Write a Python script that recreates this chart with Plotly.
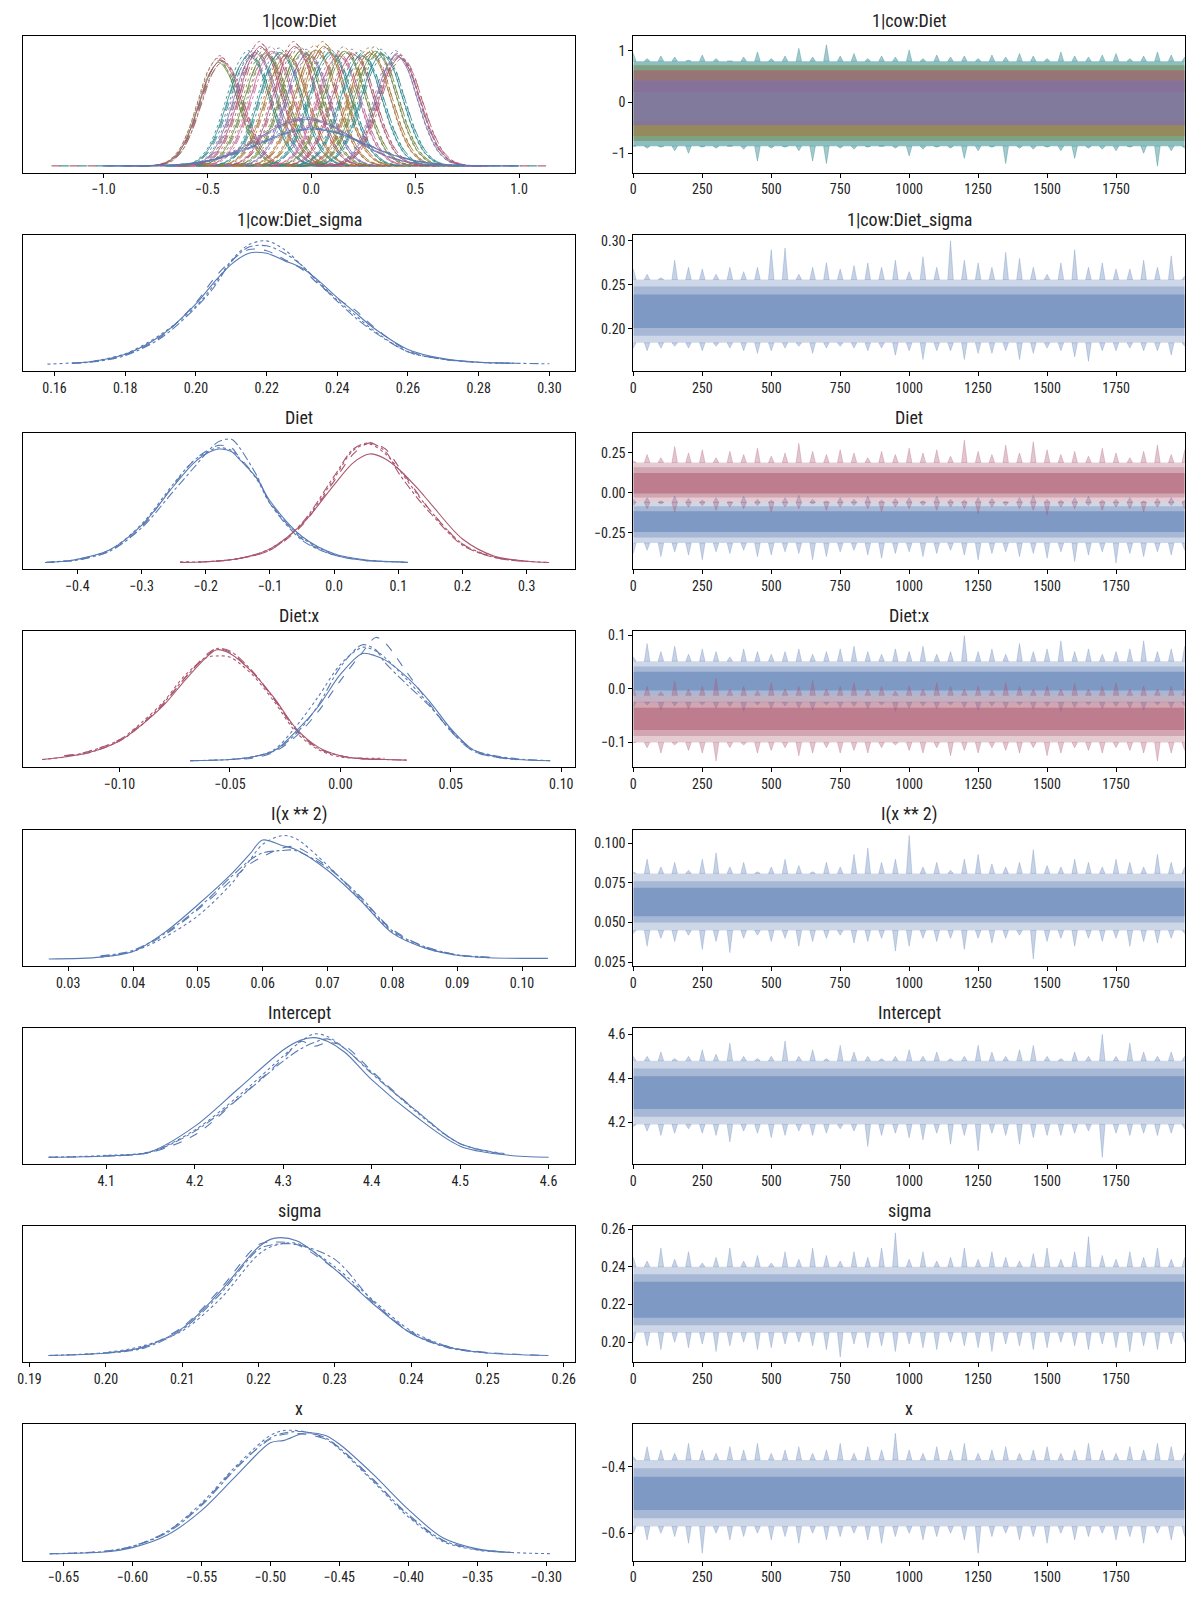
import plotly.graph_objects as go

# ------------------------------------------------------------------ data
TITLES = ["1|cow:Diet", "1|cow:Diet_sigma", "Diet", "Diet:x", "I(x ** 2)",
          "Intercept", "sigma", "x"]

KDE_TICKS = [
    [-1.0, -0.5, 0.0, 0.5, 1.0],
    [0.16, 0.18, 0.20, 0.22, 0.24, 0.26, 0.28, 0.30],
    [-0.4, -0.3, -0.2, -0.1, 0.0, 0.1, 0.2, 0.3],
    [-0.10, -0.05, 0.00, 0.05, 0.10],
    [0.03, 0.04, 0.05, 0.06, 0.07, 0.08, 0.09, 0.10],
    [4.1, 4.2, 4.3, 4.4, 4.5, 4.6],
    [0.19, 0.20, 0.21, 0.22, 0.23, 0.24, 0.25, 0.26],
    [-0.65, -0.60, -0.55, -0.50, -0.45, -0.40, -0.35, -0.30],
]
KDE_TICK_DEC = [1, 2, 1, 2, 2, 1, 2, 2]
TRACE_TICKS = [
    [-1, 0, 1],
    [0.20, 0.25, 0.30],
    [-0.25, 0.00, 0.25],
    [-0.1, 0.0, 0.1],
    [0.025, 0.050, 0.075, 0.100],
    [4.2, 4.4, 4.6],
    [0.20, 0.22, 0.24, 0.26],
    [-0.6, -0.4],
]
TRACE_TICK_DEC = [0, 2, 2, 1, 3, 1, 2, 1]
ITER_TICKS = [0, 250, 500, 750, 1000, 1250, 1500, 1750]

KDE_XRANGE = [[-1.385, 1.27], [0.1512, 0.3073], [-0.484, 0.3755], [-0.1435, 0.1063],
              [0.0231, 0.1082], [4.0065, 4.630], [0.1892, 0.2615], [-0.679, -0.279]]
TRACE_YRANGE = [[-1.378, 1.282], [0.152, 0.307], [-0.479, 0.375], [-0.147, 0.108],
                [0.0227, 0.1087], [4.01, 4.63], [0.1893, 0.2616], [-0.682, -0.273]]
ITER_RANGE = [0, 1999]

# ---- KDE curves (normalised density), 4 chains each
SIGCOW_X = [0.158, 0.165, 0.17, 0.18, 0.19, 0.20, 0.205, 0.21, 0.215, 0.22, 0.225,
            0.23, 0.235, 0.24, 0.245, 0.25, 0.26, 0.27, 0.28, 0.29, 0.30]
SIGCOW_Y = [
    [None, 0.01, 0.02, 0.08, 0.23, 0.49, 0.66, 0.81, 0.90, 0.90, 0.84, 0.78, 0.67, 0.54, 0.42, 0.30, 0.12, 0.045, 0.016, 0.008, None],
    [None, 0.008, 0.018, 0.075, 0.22, 0.50, 0.69, 0.84, 0.93, 0.92, 0.85, 0.77, 0.64, 0.53, 0.44, 0.31, 0.11, 0.04, 0.015, 0.007, None],
    [0.0, 0.01, 0.02, 0.085, 0.24, 0.47, 0.64, 0.84, 0.97, 1.0, 0.93, 0.80, 0.66, 0.52, 0.40, 0.28, 0.10, 0.04, 0.014, 0.006, None],
    [None, 0.008, 0.015, 0.07, 0.21, 0.46, 0.62, 0.83, 0.95, 0.96, 0.90, 0.80, 0.65, 0.51, 0.38, 0.27, 0.10, 0.04, 0.016, 0.008, 0.003],
]
DIET_B_X = [-0.45, -0.42, -0.40, -0.35, -0.30, -0.25, -0.22, -0.20, -0.18, -0.16, -0.15,
            -0.12, -0.10, -0.05, 0.00, 0.05, 0.10, 0.115]
DIET_B_Y = [
    [0.0, 0.01, 0.025, 0.10, 0.30, 0.62, 0.80, 0.88, 0.92, 0.90, 0.85, 0.68, 0.50, 0.21, 0.07, 0.02, 0.005, 0.0],
    [0.0, 0.01, 0.02, 0.09, 0.29, 0.63, 0.82, 0.90, 0.95, 0.93, 0.87, 0.68, 0.49, 0.19, 0.06, 0.015, 0.004, 0.0],
    [0.0, 0.012, 0.025, 0.10, 0.31, 0.64, 0.82, 0.89, 0.93, 0.91, 0.86, 0.67, 0.48, 0.20, 0.065, 0.018, 0.004, None],
    [0.0, 0.01, 0.02, 0.09, 0.28, 0.58, 0.76, 0.88, 0.98, 1.0, 0.95, 0.70, 0.48, 0.18, 0.06, 0.015, 0.004, 0.0],
]
DIET_R_X = [-0.24, -0.20, -0.15, -0.10, -0.05, 0.00, 0.03, 0.055, 0.08, 0.10, 0.13, 0.15,
            0.20, 0.25, 0.30, 0.335]
DIET_R_Y = [
    [0.0, 0.005, 0.03, 0.11, 0.31, 0.63, 0.81, 0.88, 0.84, 0.76, 0.60, 0.48, 0.19, 0.05, 0.01, 0.0],
    [0.0, 0.005, 0.03, 0.10, 0.30, 0.66, 0.88, 0.97, 0.92, 0.78, 0.56, 0.42, 0.15, 0.04, 0.008, None],
    [0.005, 0.006, 0.03, 0.11, 0.31, 0.68, 0.91, 0.96, 0.88, 0.76, 0.55, 0.42, 0.15, 0.045, 0.01, 0.0],
    [None, 0.005, 0.03, 0.10, 0.32, 0.70, 0.92, 0.97, 0.90, 0.73, 0.52, 0.40, 0.14, 0.04, 0.008, None],
]
DIETX_R_X = [-0.135, -0.125, -0.115, -0.10, -0.09, -0.08, -0.07, -0.06, -0.056, -0.05,
             -0.04, -0.03, -0.02, -0.01, 0.00, 0.01, 0.02, 0.03]
DIETX_R_Y = [
    [0.01, 0.03, 0.06, 0.16, 0.29, 0.45, 0.66, 0.85, 0.90, 0.87, 0.72, 0.51, 0.26, 0.11, 0.04, 0.015, 0.01, 0.005],
    [None, 0.04, 0.07, 0.17, 0.30, 0.46, 0.68, 0.87, 0.91, 0.88, 0.72, 0.50, 0.25, 0.10, 0.04, 0.02, 0.01, None],
    [0.01, 0.03, 0.07, 0.17, 0.31, 0.48, 0.70, 0.84, 0.85, 0.84, 0.70, 0.48, 0.23, 0.09, 0.03, 0.02, 0.02, None],
    [None, 0.04, 0.06, 0.16, 0.29, 0.47, 0.68, 0.86, 0.91, 0.89, 0.73, 0.50, 0.25, 0.10, 0.04, 0.015, 0.01, 0.005],
]
DIETX_B_X = [-0.068, -0.05, -0.04, -0.03, -0.02, -0.01, 0.00, 0.01, 0.016, 0.02, 0.03,
             0.04, 0.05, 0.06, 0.07, 0.08, 0.095]
DIETX_B_Y = [
    [0.0, 0.01, 0.03, 0.08, 0.24, 0.44, 0.70, 0.87, 0.85, 0.82, 0.68, 0.49, 0.26, 0.09, 0.035, 0.01, 0.0],
    [0.0, 0.01, 0.02, 0.07, 0.20, 0.40, 0.65, 0.88, 1.0, 0.96, 0.72, 0.47, 0.24, 0.08, 0.03, 0.01, None],
    [0.0, 0.01, 0.03, 0.09, 0.28, 0.52, 0.78, 0.92, 0.89, 0.84, 0.66, 0.46, 0.24, 0.08, 0.03, 0.008, None],
    [None, 0.01, 0.03, 0.08, 0.22, 0.45, 0.76, 0.94, 0.90, 0.80, 0.62, 0.45, 0.25, 0.09, 0.04, 0.015, 0.0],
]
IX2_X = [0.027, 0.035, 0.04, 0.045, 0.05, 0.055, 0.058, 0.060, 0.063, 0.065, 0.070, 0.075,
         0.080, 0.085, 0.090, 0.095, 0.104]
IX2_Y = [
    [0.0, 0.015, 0.06, 0.22, 0.44, 0.68, 0.85, 0.965, 0.92, 0.89, 0.72, 0.48, 0.21, 0.09, 0.03, 0.01, 0.005],
    [None, 0.02, 0.065, 0.20, 0.40, 0.63, 0.77, 0.83, 0.90, 0.91, 0.75, 0.50, 0.24, 0.10, 0.035, 0.012, None],
    [None, 0.015, 0.06, 0.18, 0.35, 0.60, 0.80, 0.93, 1.0, 0.98, 0.76, 0.49, 0.22, 0.09, 0.03, 0.01, None],
    [None, 0.025, 0.07, 0.21, 0.41, 0.66, 0.80, 0.86, 0.88, 0.88, 0.74, 0.51, 0.23, 0.10, 0.035, 0.015, None],
]
INTERCEPT_X = [4.035, 4.10, 4.15, 4.20, 4.25, 4.30, 4.32, 4.335, 4.35, 4.37, 4.40, 4.45,
               4.50, 4.55, 4.60]
INTERCEPT_Y = [
    [0.0, 0.01, 0.045, 0.25, 0.56, 0.87, 0.95, 0.97, 0.94, 0.85, 0.63, 0.33, 0.09, 0.02, 0.0],
    [0.0, 0.01, 0.04, 0.18, 0.48, 0.80, 0.94, 0.90, 0.93, 0.90, 0.70, 0.38, 0.11, 0.025, None],
    [0.0, 0.015, 0.045, 0.22, 0.50, 0.82, 0.94, 1.0, 0.98, 0.88, 0.69, 0.37, 0.11, 0.025, None],
    [None, 0.01, 0.04, 0.21, 0.48, 0.78, 0.88, 0.93, 0.96, 0.88, 0.68, 0.38, 0.11, 0.03, None],
]
SIGMA_X = [0.1925, 0.20, 0.205, 0.21, 0.215, 0.22, 0.222, 0.225, 0.23, 0.235, 0.24, 0.245,
           0.25, 0.258]
SIGMA_Y = [
    [0.0, 0.02, 0.07, 0.22, 0.52, 0.88, 0.95, 0.93, 0.70, 0.42, 0.18, 0.065, 0.02, 0.0],
    [0.0, 0.02, 0.07, 0.23, 0.54, 0.90, 0.92, 0.90, 0.70, 0.43, 0.19, 0.07, 0.025, 0.0],
    [0.0, 0.025, 0.08, 0.20, 0.46, 0.82, 0.89, 0.91, 0.72, 0.45, 0.20, 0.07, 0.02, None],
    [None, 0.02, 0.06, 0.21, 0.50, 0.86, 0.90, 0.90, 0.78, 0.44, 0.18, 0.06, 0.02, None],
]
XCOEF_X = [-0.66, -0.62, -0.60, -0.575, -0.55, -0.525, -0.50, -0.49, -0.475, -0.46, -0.45,
           -0.425, -0.40, -0.375, -0.35, -0.325, -0.295]
XCOEF_Y = [
    [0.0, 0.015, 0.05, 0.15, 0.35, 0.63, 0.90, 0.92, 0.98, 0.96, 0.89, 0.64, 0.36, 0.13, 0.04, 0.01, None],
    [0.0, 0.02, 0.06, 0.18, 0.40, 0.70, 0.93, 0.97, 0.97, 0.93, 0.86, 0.60, 0.31, 0.11, 0.035, 0.01, None],
    [0.0, 0.02, 0.06, 0.18, 0.41, 0.71, 0.96, 1.0, 0.99, 0.93, 0.85, 0.58, 0.30, 0.10, 0.03, 0.01, 0.0],
    [None, 0.02, 0.06, 0.17, 0.39, 0.69, 0.94, 0.98, 0.99, 0.94, 0.86, 0.59, 0.32, 0.11, 0.035, 0.01, None],
]

# ---- 1|cow:Diet levels: centre, peak height, spread, colour index
COW_CENTER = [-0.445, -0.435, -0.30, -0.27, -0.245, -0.22, -0.19, -0.15, -0.12, -0.08,
              -0.05, -0.02, 0.02, 0.06, 0.09, 0.13, 0.16, 0.20, 0.24, 0.28, 0.31, 0.34,
              0.41, 0.425, -0.03, 0.0]
COW_HEIGHT = [0.84, 0.86, 0.90, 0.92, 0.97, 0.91, 0.93, 0.92, 0.90, 0.97, 0.93, 0.91,
              0.94, 0.97, 0.92, 0.90, 0.93, 0.91, 0.90, 0.92, 0.93, 0.91, 0.90, 0.88,
              0.38, 0.30]
COW_SPREAD = [0.095, 0.10, 0.10, 0.10, 0.10, 0.10, 0.10, 0.10, 0.10, 0.10, 0.10, 0.10,
              0.10, 0.10, 0.10, 0.10, 0.10, 0.10, 0.10, 0.10, 0.10, 0.10, 0.10, 0.10,
              0.22, 0.25]
COW_COLOR = [3, 1, 2, 4, 1, 3, 5, 2, 6, 1, 3, 4, 6, 6, 2, 5, 3, 1, 2, 6, 3, 2, 4, 1, 4, 0]
SHAPE_OFF = [-4.0, -3.5, -3.0, -2.5, -2.0, -1.5, -1.0, -0.5, 0.0, 0.5, 1.0, 1.5, 2.0, 2.5,
             3.0, 3.5, 4.0]
SHAPE_Y = [0.0003, 0.0022, 0.011, 0.044, 0.135, 0.325, 0.607, 0.882, 1.0, 0.882, 0.607,
           0.325, 0.135, 0.044, 0.011, 0.0022, 0.0003]
CHAIN_SCALE = [1.0, 1.02, 1.04, 0.99]
CHAIN_SHIFT = [0.0, 0.006, -0.005, 0.01]
COW_TAIL_X = [[-1.25, 1.13], [-1.21, 1.10]]

# ---- traces: iteration grid, spike maxima / minima, density bands (outer, mid, core)
ITER = [0, 50, 100, 150, 200, 250, 300, 350, 400, 450, 500, 550, 600, 650, 700, 750, 800,
        850, 900, 950, 1000, 1050, 1100, 1150, 1200, 1250, 1300, 1350, 1400, 1450, 1500,
        1550, 1600, 1650, 1700, 1750, 1800, 1850, 1900, 1950, 1999]

COW_TR_HI = [0.95, 0.85, 0.9, 0.88, 0.82, 0.92, 0.85, 0.8, 0.88, 0.98, 0.85, 0.9, 1.05, 0.88,
             1.12, 0.9, 0.95, 0.85, 0.9, 0.88, 1.02, 0.85, 0.92, 0.88, 0.9, 0.85, 0.92, 0.88,
             0.95, 0.9, 0.85, 0.98, 0.9, 0.88, 0.92, 0.95, 0.85, 0.9, 0.98, 0.92, 0.88]
COW_TR_LO = [-0.85, -0.9, -0.88, -0.95, -1.0, -0.88, -0.9, -0.85, -0.92, -1.15, -0.9, -0.88,
             -0.95, -1.15, -1.2, -0.9, -0.92, -0.88, -0.85, -0.9, -1.05, -0.92, -0.88, -0.9,
             -1.1, -0.95, -0.88, -1.2, -0.9, -0.92, -0.88, -0.95, -1.1, -0.9, -0.92, -0.95,
             -0.88, -1.0, -1.25, -0.95, -0.9]
COW_LAYER_COLOR = [2, 3, 1, 6, 4]
COW_LAYER_LO = [-0.86, -0.76, 0.20, -0.66, -0.45]
COW_LAYER_HI = [0.80, 0.72, 0.62, -0.38, 0.42]
COW_LAYER_ALPHA = [0.55, 0.5, 0.6, 0.55, 0.8]

SIGCOW_HI = [0.268, 0.262, 0.258, 0.278, 0.27, 0.268, 0.262, 0.27, 0.265, 0.27, 0.29, 0.292,
             0.262, 0.27, 0.275, 0.268, 0.272, 0.275, 0.27, 0.278, 0.265, 0.282, 0.27, 0.30,
             0.278, 0.275, 0.27, 0.287, 0.28, 0.27, 0.262, 0.275, 0.29, 0.27, 0.275, 0.268,
             0.268, 0.278, 0.27, 0.283, 0.26]
SIGCOW_LO = [0.178, 0.175, 0.178, 0.18, 0.178, 0.175, 0.18, 0.178, 0.175, 0.172, 0.175, 0.178,
             0.18, 0.172, 0.178, 0.18, 0.178, 0.175, 0.178, 0.17, 0.175, 0.165, 0.175, 0.175,
             0.165, 0.172, 0.172, 0.175, 0.165, 0.172, 0.178, 0.175, 0.168, 0.163, 0.175,
             0.175, 0.178, 0.175, 0.175, 0.17, 0.18]
SIGCOW_BANDS = [[0.184, 0.256], [0.192, 0.248], [0.201, 0.239]]

DIET_B_HI = [-0.04, -0.03, -0.05, -0.02, -0.035, -0.045, -0.03, -0.055, -0.02, -0.04, -0.045,
             -0.03, -0.015, -0.04, -0.05, -0.03, -0.04, -0.02, -0.045, -0.035, -0.03, -0.05,
             -0.02, -0.04, -0.045, -0.03, -0.035, -0.055, -0.03, -0.015, -0.04, -0.045,
             -0.03, -0.02, -0.045, -0.04, -0.03, -0.05, -0.035, -0.03, -0.045]
DIET_B_LO = [-0.38, -0.36, -0.40, -0.37, -0.39, -0.42, -0.37, -0.38, -0.36, -0.40, -0.39,
             -0.37, -0.38, -0.42, -0.40, -0.37, -0.36, -0.39, -0.41, -0.38, -0.37, -0.40,
             -0.38, -0.36, -0.39, -0.42, -0.38, -0.37, -0.40, -0.38, -0.41, -0.37, -0.43,
             -0.39, -0.37, -0.44, -0.38, -0.40, -0.37, -0.39, -0.36]
DIET_B_BANDS = [[-0.315, -0.06], [-0.28, -0.085], [-0.245, -0.115]]
DIET_R_HI = [0.2, 0.24, 0.22, 0.29, 0.25, 0.27, 0.22, 0.26, 0.24, 0.28, 0.23, 0.25, 0.31,
             0.26, 0.24, 0.27, 0.25, 0.22, 0.26, 0.24, 0.28, 0.25, 0.27, 0.23, 0.33, 0.26,
             0.24, 0.3, 0.25, 0.32, 0.27, 0.24, 0.26, 0.23, 0.28, 0.25, 0.22, 0.26, 0.30,
             0.24, 0.27]
DIET_R_LO = [-0.08, -0.1, -0.07, -0.12, -0.09, -0.08, -0.11, -0.09, -0.1, -0.08, -0.12,
             -0.09, -0.1, -0.07, -0.11, -0.09, -0.08, -0.1, -0.12, -0.09, -0.1, -0.08,
             -0.11, -0.09, -0.1, -0.13, -0.09, -0.08, -0.1, -0.11, -0.14, -0.09, -0.1,
             -0.08, -0.11, -0.09, -0.1, -0.12, -0.09, -0.08, -0.1]
DIET_R_BANDS = [[-0.06, 0.19], [-0.03, 0.16], [-0.005, 0.125]]

DIETX_B_HI = [0.06, 0.085, 0.07, 0.08, 0.065, 0.075, 0.07, 0.06, 0.075, 0.07, 0.065, 0.07,
              0.075, 0.065, 0.07, 0.075, 0.08, 0.07, 0.065, 0.075, 0.07, 0.08, 0.065, 0.07,
              0.1, 0.07, 0.075, 0.065, 0.085, 0.07, 0.075, 0.09, 0.07, 0.075, 0.065, 0.07,
              0.075, 0.09, 0.07, 0.075, 0.08]
DIETX_B_LO = [-0.035, -0.03, -0.04, -0.032, -0.038, -0.03, -0.036, -0.033, -0.042, -0.03,
              -0.037, -0.032, -0.036, -0.04, -0.03, -0.035, -0.033, -0.038, -0.03, -0.042,
              -0.036, -0.032, -0.037, -0.03, -0.035, -0.04, -0.032, -0.036, -0.03, -0.038,
              -0.033, -0.042, -0.035, -0.03, -0.037, -0.033, -0.036, -0.04, -0.03, -0.035,
              -0.032]
DIETX_B_BANDS = [[-0.025, 0.052], [-0.012, 0.042], [-0.003, 0.032]]
DIETX_R_HI = [0.0, 0.005, -0.005, 0.015, 0.0, 0.005, 0.02, 0.0, 0.005, -0.003, 0.012, 0.0,
              0.005, 0.016, 0.0, 0.005, 0.012, 0.0, 0.005, -0.004, 0.006, 0.0, 0.012, 0.005,
              0.0, 0.006, -0.002, 0.012, 0.005, 0.0, 0.006, 0.0, 0.01, 0.0, 0.005, 0.012, 0.0,
              0.006, 0.0, 0.005, 0.0]
DIETX_R_LO = [-0.1, -0.11, -0.12, -0.105, -0.115, -0.12, -0.135, -0.11, -0.105, -0.12,
              -0.115, -0.11, -0.125, -0.12, -0.11, -0.12, -0.115, -0.12, -0.11, -0.105,
              -0.115, -0.12, -0.11, -0.125, -0.115, -0.12, -0.11, -0.115, -0.12, -0.11,
              -0.125, -0.12, -0.11, -0.115, -0.12, -0.11, -0.115, -0.12, -0.135, -0.12,
              -0.115]
DIETX_R_BANDS = [[-0.1, -0.012], [-0.088, -0.024], [-0.077, -0.035]]

IX2_HI = [0.082, 0.09, 0.085, 0.088, 0.083, 0.09, 0.094, 0.085, 0.088, 0.082, 0.085, 0.09,
          0.086, 0.082, 0.088, 0.085, 0.093, 0.097, 0.088, 0.09, 0.105, 0.085, 0.088, 0.083,
          0.09, 0.093, 0.087, 0.085, 0.088, 0.096, 0.086, 0.085, 0.09, 0.088, 0.085, 0.09,
          0.088, 0.085, 0.093, 0.088, 0.085]
IX2_LO = [0.043, 0.035, 0.04, 0.038, 0.042, 0.033, 0.038, 0.031, 0.04, 0.042, 0.038, 0.04,
          0.035, 0.038, 0.04, 0.042, 0.037, 0.038, 0.04, 0.032, 0.035, 0.04, 0.038, 0.04,
          0.033, 0.04, 0.037, 0.04, 0.042, 0.027, 0.038, 0.04, 0.035, 0.04, 0.038, 0.04,
          0.035, 0.038, 0.037, 0.04, 0.043]
IX2_BANDS = [[0.045, 0.081], [0.05, 0.076], [0.054, 0.072]]

INTERCEPT_HI = [4.5, 4.5, 4.52, 4.49, 4.5, 4.53, 4.51, 4.56, 4.5, 4.49, 4.5, 4.57, 4.5,
                4.53, 4.49, 4.55, 4.52, 4.5, 4.49, 4.5, 4.53, 4.5, 4.52, 4.49, 4.5, 4.55,
                4.52, 4.5, 4.53, 4.55, 4.5, 4.49, 4.52, 4.5, 4.6, 4.5, 4.56, 4.52, 4.5, 4.52,
                4.5]
INTERCEPT_LO = [4.18, 4.16, 4.14, 4.15, 4.17, 4.15, 4.14, 4.11, 4.16, 4.15, 4.13, 4.14, 4.16,
                4.14, 4.15, 4.17, 4.16, 4.09, 4.14, 4.15, 4.13, 4.12, 4.15, 4.1, 4.14, 4.07,
                4.15, 4.14, 4.1, 4.13, 4.14, 4.14, 4.15, 4.16, 4.04, 4.15, 4.14, 4.15, 4.14,
                4.15, 4.17]
INTERCEPT_BANDS = [[4.19, 4.48], [4.225, 4.445], [4.26, 4.41]]

SIGMA_HI = [0.245, 0.243, 0.25, 0.244, 0.248, 0.242, 0.245, 0.25, 0.243, 0.246, 0.242, 0.248,
            0.244, 0.25, 0.246, 0.243, 0.248, 0.245, 0.25, 0.258, 0.244, 0.248, 0.243, 0.245,
            0.25, 0.244, 0.248, 0.245, 0.243, 0.247, 0.25, 0.244, 0.248, 0.256, 0.246, 0.244,
            0.248, 0.245, 0.25, 0.244, 0.245]
SIGMA_LO = [0.2, 0.198, 0.196, 0.2, 0.197, 0.199, 0.195, 0.198, 0.2, 0.196, 0.197, 0.199,
            0.2, 0.198, 0.196, 0.192, 0.199, 0.197, 0.198, 0.195, 0.199, 0.197, 0.196, 0.2,
            0.198, 0.197, 0.195, 0.199, 0.198, 0.196, 0.197, 0.2, 0.198, 0.196, 0.199, 0.197,
            0.195, 0.198, 0.196, 0.199, 0.2]
SIGMA_BANDS = [[0.205, 0.240], [0.209, 0.236], [0.213, 0.232]]

XCOEF_HI = [-0.37, -0.34, -0.35, -0.36, -0.33, -0.35, -0.36, -0.34, -0.35, -0.33, -0.36,
            -0.35, -0.34, -0.36, -0.35, -0.33, -0.36, -0.34, -0.35, -0.3, -0.35, -0.36,
            -0.34, -0.35, -0.33, -0.36, -0.35, -0.34, -0.36, -0.35, -0.34, -0.36, -0.35,
            -0.33, -0.35, -0.36, -0.34, -0.35, -0.33, -0.34, -0.36]
XCOEF_LO = [-0.6, -0.62, -0.6, -0.61, -0.63, -0.66, -0.6, -0.62, -0.61, -0.6, -0.62, -0.61,
            -0.63, -0.6, -0.62, -0.61, -0.6, -0.62, -0.63, -0.61, -0.6, -0.62, -0.61, -0.6,
            -0.62, -0.66, -0.61, -0.6, -0.62, -0.61, -0.63, -0.6, -0.62, -0.61, -0.6, -0.62,
            -0.61, -0.63, -0.6, -0.62, -0.61]
XCOEF_BANDS = [[-0.58, -0.38], [-0.555, -0.405], [-0.53, -0.43]]

# ------------------------------------------------------------------ style
FONT = "Liberation Sans Narrow, Roboto Condensed, DejaVu Sans Condensed, sans-serif"
PALETTE = [(88, 122, 180), (170, 86, 110), (48, 138, 142), (112, 134, 66),
           (130, 112, 164), (196, 108, 150), (168, 118, 60)]
BLUE, RED = 0, 1
DASHES = ["solid", "dash", "dot", "dashdot"]
BAND_ALPHA = [0.3, 0.33, 0.5]
SPIKE_HALF = 10                   # half base width of a spike, in iterations
PAGE_OFF = 8                      # browser body margin
W, H = 1184, 1584
LEFT_PX = (17.5, 572.5)           # page coordinates of the panel boxes
RIGHT_PX = (631.0, 1185.7)
BOX_TOP_PX = [31.6, 231.0, 430.4, 629.8, 829.2, 1028.6, 1228.0, 1427.4]
BOX_H_PX = 137.0


def rgba(i, a):
    r, g, b = PALETTE[i]
    return f"rgba({r},{g},{b},{a})"


def fmt(v, dec):
    s = f"{abs(v):.{dec}f}"
    return ("\u2212" + s) if v < 0 else s


fig = go.Figure()
layout = dict(width=W, height=H, margin=dict(l=0, r=0, t=0, b=0),
              paper_bgcolor="white", plot_bgcolor="white", showlegend=False,
              font=dict(family=FONT, size=14, color="#222222"))
annotations = []


def axis_base():
    return dict(showline=True, mirror=True, linecolor="black", linewidth=1,
                showgrid=False, zeroline=False, ticks="outside", ticklen=4,
                tickwidth=1, tickcolor="black", tickfont=dict(size=14, color="#222222"))


def ax_ids(row, col):
    n = 2 * row + col + 1
    return ("x" if n == 1 else f"x{n}"), ("y" if n == 1 else f"y{n}"), n


def add_kde(row, xs, ys_list, color):
    xa, ya, _ = ax_ids(row, 0)
    for c, ys in enumerate(ys_list):
        fig.add_trace(go.Scatter(x=xs, y=ys, mode="lines", xaxis=xa, yaxis=ya,
                                 line=dict(color=rgba(color, 1), width=1.1, dash=DASHES[c],
                                           shape="spline", smoothing=0.9),
                                 hoverinfo="skip"))


def add_rect(xa, ya, lo, hi, fillcolor):
    fig.add_trace(go.Scatter(x=[ITER[0], ITER[-1], ITER[-1], ITER[0], ITER[0]],
                             y=[lo, lo, hi, hi, lo], mode="lines", fill="toself",
                             xaxis=xa, yaxis=ya, fillcolor=fillcolor, line=dict(width=0),
                             hoverinfo="skip"))


def add_spikes(xa, ya, hi, lo, top, bottom, color):
    xs, ys = [], []
    for k in range(len(ITER)):
        x0 = max(ITER[0], ITER[k] - SPIKE_HALF)
        x1 = min(ITER[-1], ITER[k] + SPIKE_HALF)
        xs += [x0, ITER[k], x1, x0, None, x0, ITER[k], x1, x0, None]
        ys += [top, hi[k], top, top, None, bottom, lo[k], bottom, bottom, None]
    fig.add_trace(go.Scatter(x=xs, y=ys, mode="lines", fill="toself", xaxis=xa, yaxis=ya,
                             fillcolor=color, line=dict(color=color, width=0.8),
                             hoverinfo="skip"))


def add_trace_band(row, hi, lo, bands, color):
    xa, ya, _ = ax_ids(row, 1)
    add_spikes(xa, ya, hi, lo, bands[0][1], bands[0][0], rgba(color, 0.34))
    for (b_lo, b_hi), a in zip(bands, BAND_ALPHA):
        add_rect(xa, ya, b_lo, b_hi, rgba(color, a))


# ---- row 0 : 1|cow:Diet
xa0, ya0, _ = ax_ids(0, 0)
for t, tx in enumerate(COW_TAIL_X):
    fig.add_trace(go.Scatter(x=tx, y=[0.0, 0.0], mode="lines", xaxis=xa0, yaxis=ya0,
                             line=dict(color=rgba([RED, 2][t], 0.9), width=1.1, dash="dash"),
                             hoverinfo="skip"))
for lv in range(len(COW_CENTER)):
    for c in range(4):
        xs = [COW_CENTER[lv] + CHAIN_SHIFT[c] + o * COW_SPREAD[lv] for o in SHAPE_OFF]
        ys = [COW_HEIGHT[lv] * CHAIN_SCALE[c] * s for s in SHAPE_Y]
        fig.add_trace(go.Scatter(x=xs, y=ys, mode="lines", xaxis=xa0, yaxis=ya0,
                                 line=dict(color=rgba(COW_COLOR[lv], 0.85), width=1.0,
                                           dash=DASHES[c], shape="spline", smoothing=0.9),
                                 hoverinfo="skip"))
xa1, ya1, _ = ax_ids(0, 1)
add_spikes(xa1, ya1, COW_TR_HI, COW_TR_LO, COW_LAYER_HI[0], COW_LAYER_LO[0], rgba(2, 0.45))
for li in range(len(COW_LAYER_COLOR)):
    add_rect(xa1, ya1, COW_LAYER_LO[li], COW_LAYER_HI[li],
             rgba(COW_LAYER_COLOR[li], COW_LAYER_ALPHA[li]))

# ---- remaining rows
add_kde(1, SIGCOW_X, SIGCOW_Y, BLUE)
add_trace_band(1, SIGCOW_HI, SIGCOW_LO, SIGCOW_BANDS, BLUE)

add_kde(2, DIET_B_X, DIET_B_Y, BLUE)
add_kde(2, DIET_R_X, DIET_R_Y, RED)
add_trace_band(2, DIET_B_HI, DIET_B_LO, DIET_B_BANDS, BLUE)
add_trace_band(2, DIET_R_HI, DIET_R_LO, DIET_R_BANDS, RED)

add_kde(3, DIETX_R_X, DIETX_R_Y, RED)
add_kde(3, DIETX_B_X, DIETX_B_Y, BLUE)
add_trace_band(3, DIETX_B_HI, DIETX_B_LO, DIETX_B_BANDS, BLUE)
add_trace_band(3, DIETX_R_HI, DIETX_R_LO, DIETX_R_BANDS, RED)

add_kde(4, IX2_X, IX2_Y, BLUE)
add_trace_band(4, IX2_HI, IX2_LO, IX2_BANDS, BLUE)

add_kde(5, INTERCEPT_X, INTERCEPT_Y, BLUE)
add_trace_band(5, INTERCEPT_HI, INTERCEPT_LO, INTERCEPT_BANDS, BLUE)

add_kde(6, SIGMA_X, SIGMA_Y, BLUE)
add_trace_band(6, SIGMA_HI, SIGMA_LO, SIGMA_BANDS, BLUE)

add_kde(7, XCOEF_X, XCOEF_Y, BLUE)
add_trace_band(7, XCOEF_HI, XCOEF_LO, XCOEF_BANDS, BLUE)

# ---- axes and titles
for row in range(8):
    top = BOX_TOP_PX[row] - PAGE_OFF
    ydom = [1 - (top + BOX_H_PX) / H, 1 - top / H]
    for col in range(2):
        _, _, n = ax_ids(row, col)
        px = LEFT_PX if col == 0 else RIGHT_PX
        xdom = [(px[0] - PAGE_OFF) / W, (px[1] - PAGE_OFF) / W]
        xk = "xaxis" if n == 1 else f"xaxis{n}"
        yk = "yaxis" if n == 1 else f"yaxis{n}"
        xaxis = axis_base()
        yaxis = axis_base()
        xaxis.update(domain=xdom, anchor="y" if n == 1 else f"y{n}")
        yaxis.update(domain=ydom, anchor="x" if n == 1 else f"x{n}")
        if col == 0:
            xaxis.update(range=KDE_XRANGE[row], tickvals=KDE_TICKS[row],
                         ticktext=[fmt(v, KDE_TICK_DEC[row]) for v in KDE_TICKS[row]])
            yaxis.update(range=[-0.055, 1.05], showticklabels=False, ticks="")
        else:
            xaxis.update(range=ITER_RANGE, tickvals=ITER_TICKS,
                         ticktext=[str(v) for v in ITER_TICKS])
            yaxis.update(range=TRACE_YRANGE[row], tickvals=TRACE_TICKS[row],
                         ticktext=[fmt(v, TRACE_TICK_DEC[row]) for v in TRACE_TICKS[row]])
        layout[xk] = xaxis
        layout[yk] = yaxis
        annotations.append(dict(text=TITLES[row], xref="paper", yref="paper",
                                x=(xdom[0] + xdom[1]) / 2, y=ydom[1], xanchor="center",
                                yanchor="bottom", yshift=3, showarrow=False,
                                font=dict(size=18, color="#222222", family=FONT)))

layout["annotations"] = annotations
fig.update_layout(**layout)
fig.write_html("out.html")
